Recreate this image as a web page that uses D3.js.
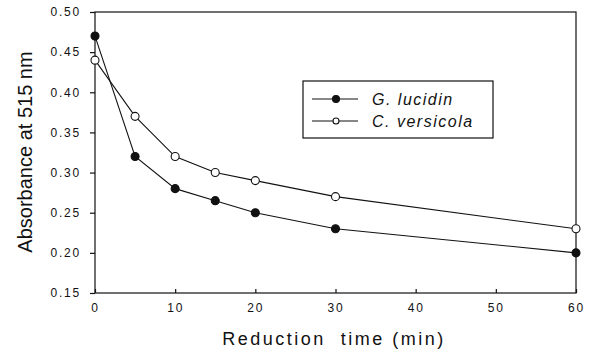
<!DOCTYPE html>
<html><head><meta charset="utf-8">
<script src="https://cdn.jsdelivr.net/npm/d3@7"></script>
<style>
html,body{margin:0;padding:0;background:#fff;}
svg{display:block;font-family:"Liberation Sans",Arial,sans-serif;}
</style></head>
<body>
<svg id="chart" width="591" height="352"></svg>
<script>
const times = [0, 5, 10, 15, 20, 30, 60];
const gLucidin = [0.47, 0.32, 0.28, 0.265, 0.25, 0.23, 0.20];
const cVersicola = [0.44, 0.37, 0.32, 0.30, 0.29, 0.27, 0.23];
const seriesNames = ["G. lucidin", "C. versicola"];
const xTicks = [0, 10, 20, 30, 40, 50, 60];
const yTicks = [0.15, 0.20, 0.25, 0.30, 0.35, 0.40, 0.45, 0.50];

const svg = d3.select("#chart");
const L = 95, R = 576, T = 12, B = 293;
const x = d3.scaleLinear().domain([0, 60]).range([L, R]);
const y = d3.scaleLinear().domain([0.15, 0.50]).range([B, T]);

// frame
svg.append("rect").attr("x", L).attr("y", T).attr("width", R - L).attr("height", B - T)
  .attr("fill", "none").attr("stroke", "#111").attr("stroke-width", 1.2);

// y axis
const yAxis = svg.append("g").attr("transform", `translate(${L},0)`)
  .call(d3.axisLeft(y).tickValues(yTicks).tickFormat(d3.format(".2f")).tickSize(5).tickPadding(9));
yAxis.select(".domain").remove();
yAxis.selectAll("line").attr("stroke", "#111").attr("stroke-width", 1.2);
yAxis.selectAll("text").attr("font-size", 12).attr("letter-spacing", "1.8px")
  .attr("fill", "#111").attr("font-family", "Liberation Sans, Arial, sans-serif");

// x axis (inward ticks)
const xAxis = svg.append("g").attr("transform", `translate(0,${B})`)
  .call(d3.axisBottom(x).tickValues(xTicks).tickFormat(d3.format("d")).tickSizeInner(-4).tickSizeOuter(0).tickPadding(10));
xAxis.select(".domain").remove();
xAxis.selectAll("line").attr("stroke", "#111").attr("stroke-width", 1.2);
xAxis.selectAll("text").attr("font-size", 12).attr("letter-spacing", "1.8px")
  .attr("fill", "#111").attr("font-family", "Liberation Sans, Arial, sans-serif");

// axis titles
svg.append("text").attr("transform", "translate(32,152) rotate(-90)")
  .attr("text-anchor", "middle").attr("font-size", 20).attr("fill", "#111")
  .text("Absorbance at 515 nm");
svg.append("text").attr("x", 334).attr("y", 345)
  .attr("text-anchor", "middle").attr("font-size", 18).attr("letter-spacing", "2.5px").attr("fill", "#111")
  .attr("xml:space", "preserve").style("white-space", "pre")
  .text("Reduction  time (min)");

const line = d3.line().x(d => x(d[0])).y(d => y(d[1]));
const data = [
  {name: seriesNames[0], vals: times.map((t, i) => [t, gLucidin[i]]), fill: "#111"},
  {name: seriesNames[1], vals: times.map((t, i) => [t, cVersicola[i]]), fill: "#fff"}
];
data.forEach(s => {
  svg.append("path").datum(s.vals).attr("d", line)
    .attr("fill", "none").attr("stroke", "#111").attr("stroke-width", 1.1);
});
data.forEach(s => {
  svg.append("g").selectAll("circle").data(s.vals).join("circle")
    .attr("cx", d => x(d[0])).attr("cy", d => y(d[1])).attr("r", 4)
    .attr("fill", s.fill).attr("stroke", "#111").attr("stroke-width", 1.1);
});

// legend
const lg = svg.append("g");
lg.append("rect").attr("x", 303).attr("y", 81).attr("width", 190).attr("height", 57)
  .attr("fill", "#fff").attr("stroke", "#111").attr("stroke-width", 1.2);
data.forEach((s, i) => {
  const yy = 99 + i * 22;
  lg.append("line").attr("x1", 312).attr("x2", 358).attr("y1", yy).attr("y2", yy)
    .attr("stroke", "#111").attr("stroke-width", 1.1);
  lg.append("circle").attr("cx", 336).attr("cy", yy).attr("r", i === 0 ? 3.5 : 3)
    .attr("fill", s.fill).attr("stroke", "#111").attr("stroke-width", 1.1);
  lg.append("text").attr("x", 372).attr("y", yy + 5.5).attr("font-size", 16)
    .attr("font-style", "italic").attr("letter-spacing", "1.5px").attr("fill", "#111")
    .text(s.name);
});
</script>
</body></html>
